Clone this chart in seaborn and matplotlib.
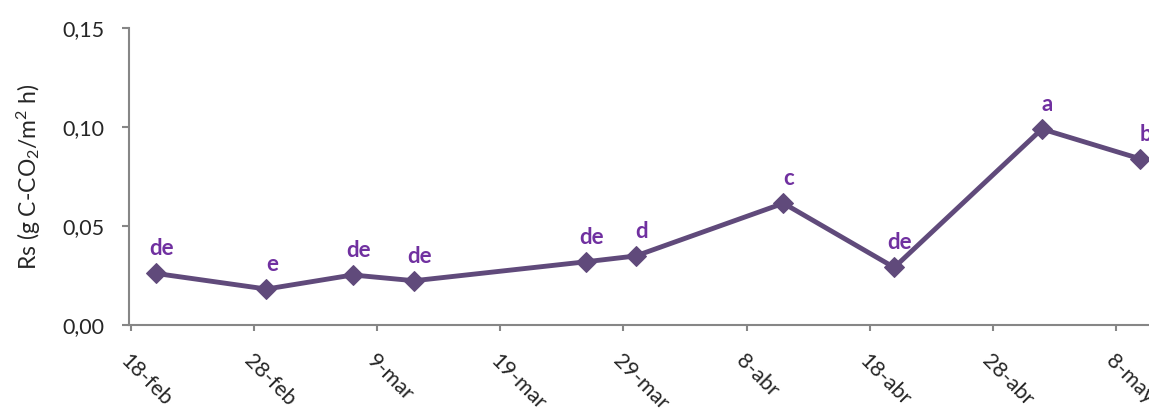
import matplotlib
matplotlib.use('Agg')
import matplotlib.pyplot as plt
import matplotlib.ticker as mticker
import seaborn as sns
import pandas as pd

# sampling dates (2012 is a leap year: 9-mar is 20 days after 18-feb)
dates = ['2012-02-20', '2012-02-29', '2012-03-07', '2012-03-12', '2012-03-26',
         '2012-03-30', '2012-04-11', '2012-04-20', '2012-05-02', '2012-05-10']
rs_values = [0.0261, 0.0182, 0.0253, 0.0224, 0.0320, 0.0349, 0.0615, 0.0291, 0.0990, 0.0839]
letters = ['de', 'e', 'de', 'de', 'de', 'd', 'c', 'de', 'a', 'b']

tick_dates = ['2012-02-18', '2012-02-28', '2012-03-09', '2012-03-19', '2012-03-29',
              '2012-04-08', '2012-04-18', '2012-04-28', '2012-05-08']
tick_labels = ['18-feb', '28-feb', '9-mar', '19-mar', '29-mar',
               '8-abr', '18-abr', '28-abr', '8-may']

df = pd.DataFrame({'fecha': pd.to_datetime(dates), 'rs': rs_values, 'letra': letters})

sns.set_style('white')
plt.rcParams['font.family'] = ['Lato', 'DejaVu Sans']
plt.rcParams['mathtext.fontset'] = 'custom'
plt.rcParams['mathtext.rm'] = 'Lato'
plt.rcParams['mathtext.it'] = 'Lato'

line_col = '#604A7B'
lab_col = '#7030A0'
axis_col = '#868686'

fig = plt.figure(figsize=(11.49, 4.11), dpi=100)
ax = fig.add_axes([0.1123, 0.209, 0.8877, 0.723])

sns.lineplot(data=df, x='fecha', y='rs', ax=ax, color=line_col, linewidth=3.5,
             marker='D', markersize=10, markeredgecolor=line_col)

for _, row in df.iterrows():
    ax.annotate(row['letra'], (row['fecha'], row['rs']), xytext=(4, 13),
                textcoords='offset points', ha='center', va='baseline',
                color=lab_col, fontsize=16, fontweight='bold')

ax.set_xlim(pd.Timestamp('2012-02-18') - pd.Timedelta(hours=4),
            pd.Timestamp('2012-02-18') + pd.Timedelta(days=82.7))
ax.set_ylim(0, 0.15)
ax.set_yticks([0, 0.05, 0.10, 0.15])
ax.yaxis.set_major_formatter(mticker.FuncFormatter(lambda v, p: f'{v:.2f}'.replace('.', ',')))
ax.set_xticks(pd.to_datetime(tick_dates))
ax.set_xticklabels(tick_labels, rotation=-45, ha='left', va='top', rotation_mode='anchor')

for s in ['top', 'right']:
    ax.spines[s].set_visible(False)
for s in ['left', 'bottom']:
    ax.spines[s].set_color(axis_col)
    ax.spines[s].set_linewidth(1.5)
ax.tick_params(axis='y', direction='out', length=5, width=1.5, color=axis_col,
               labelsize=15.5, pad=13, left=True)
ax.tick_params(axis='x', direction='out', length=4.5, width=1.5, color=axis_col,
               labelsize=15.5, pad=14, bottom=True)

ax.set_xlabel('')
ax.set_ylabel('Rs (g C-CO$_2$/m$^2$ h)', fontsize=16.5)
ax.yaxis.set_label_coords(-0.084, 0.5)

plt.savefig('out.png', dpi=100)
plt.close()
